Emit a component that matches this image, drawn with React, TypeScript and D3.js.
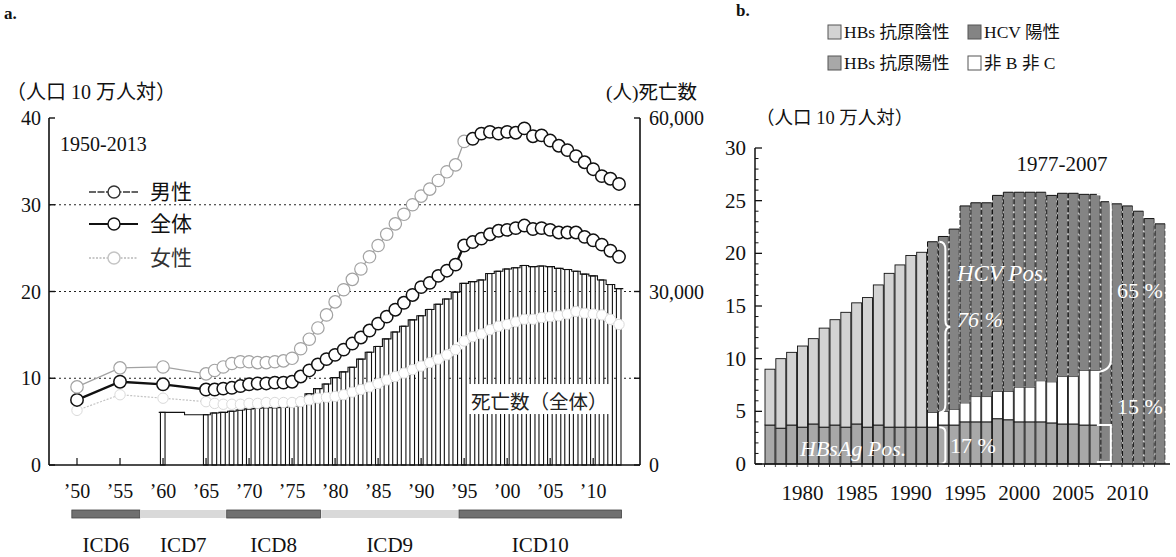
import React from "react";
import * as d3 from "d3";

const FONT = "'Liberation Serif','Times New Roman','Noto Sans CJK JP',serif";

// ---------- panel a ----------
const yearsA = [1950, 1955, 1960, 1965, 1966, 1967, 1968, 1969, 1970, 1971, 1972, 1973, 1974, 1975, 1976, 1977, 1978, 1979, 1980, 1981, 1982, 1983, 1984, 1985, 1986, 1987, 1988, 1989, 1990, 1991, 1992, 1993, 1994, 1995, 1996, 1997, 1998, 1999, 2000, 2001, 2002, 2003, 2004, 2005, 2006, 2007, 2008, 2009, 2010, 2011, 2012, 2013];
const maleRate = [9.0, 11.2, 11.3, 10.5, 10.9, 11.3, 11.7, 11.9, 11.9, 11.8, 11.8, 11.9, 12.0, 12.3, 13.4, 14.5, 15.8, 17.3, 18.8, 20.2, 21.4, 22.6, 24.0, 25.3, 26.6, 27.8, 28.9, 30.0, 31.0, 31.8, 32.8, 33.8, 34.6, 37.3, 37.6, 38.2, 38.4, 38.2, 38.4, 38.3, 38.8, 37.9, 38.0, 37.4, 36.8, 36.3, 35.6, 34.9, 34.1, 33.3, 33.0, 32.4];
const totalRate = [7.5, 9.6, 9.3, 8.7, 8.7, 8.8, 8.9, 9.1, 9.3, 9.4, 9.4, 9.5, 9.5, 9.6, 10.2, 10.9, 11.6, 12.2, 12.7, 13.3, 14.0, 14.7, 15.5, 16.3, 17.1, 17.9, 18.7, 19.6, 20.5, 21.0, 21.8, 22.4, 23.1, 25.3, 25.7, 26.1, 26.6, 27.0, 27.1, 27.3, 27.6, 27.2, 27.3, 27.1, 26.8, 26.8, 26.8, 26.3, 25.9, 25.4, 24.7, 24.0];
const femaleRate = [6.3, 8.1, 7.7, 7.3, 7.1, 7.0, 7.0, 7.0, 7.1, 7.1, 7.2, 7.2, 7.2, 7.2, 7.3, 7.5, 7.7, 7.8, 7.9, 8.1, 8.4, 8.7, 9.0, 9.4, 9.8, 10.2, 10.6, 11.0, 11.4, 11.8, 12.2, 12.7, 13.3, 14.3, 14.8, 15.1, 15.6, 16.0, 16.2, 16.5, 16.8, 16.8, 17.0, 17.1, 17.2, 17.4, 17.7, 17.5, 17.4, 17.3, 16.8, 16.2];
const deathYears = [1960, 1965, 1966, 1967, 1968, 1969, 1970, 1971, 1972, 1973, 1974, 1975, 1976, 1977, 1978, 1979, 1980, 1981, 1982, 1983, 1984, 1985, 1986, 1987, 1988, 1989, 1990, 1991, 1992, 1993, 1994, 1995, 1996, 1997, 1998, 1999, 2000, 2001, 2002, 2003, 2004, 2005, 2006, 2007, 2008, 2009, 2010, 2011, 2012, 2013];
const deaths = [9100, 8700, 9000, 9100, 9300, 9500, 9700, 9800, 9900, 9900, 10000, 10200, 11200, 12300, 13200, 14000, 15100, 16100, 16900, 18300, 19500, 20500, 21800, 23000, 24000, 25100, 25800, 26900, 27800, 28700, 29900, 31400, 31700, 32000, 33100, 33500, 33900, 34100, 34500, 34300, 34400, 34300, 34000, 33800, 33500, 33000, 32700, 32000, 31200, 30500];
const xTicksA = [1950, 1955, 1960, 1965, 1970, 1975, 1980, 1985, 1990, 1995, 2000, 2005, 2010];
const xTickLabelsA = ["’50", "’55", "’60", "’65", "’70", "’75", "’80", "’85", "’90", "’95", "’00", "’05", "’10"];
const leftTicks = [0, 10, 20, 30, 40];
const gridTicks = [10, 20, 30];
const rightTicks = [0, 15000, 30000, 45000, 60000];
const rightLabelTicks = [0, 30000, 60000];
const rightTickLabels = ["0", "30,000", "60,000"];
const icdNames = ["ICD6", "ICD7", "ICD8", "ICD9", "ICD10"];
const icdStart = [1950, 1958, 1968, 1979, 1995];
const icdEnd = [1958, 1968, 1979, 1995, 2014];
const legendA = ["男性", "全体", "女性"];

// ---------- panel b ----------
const yearsB = [1977, 1978, 1979, 1980, 1981, 1982, 1983, 1984, 1985, 1986, 1987, 1988, 1989, 1990, 1991, 1992, 1993, 1994, 1995, 1996, 1997, 1998, 1999, 2000, 2001, 2002, 2003, 2004, 2005, 2006, 2007, 2008, 2009, 2010, 2011, 2012, 2013];
const totalB = [9.0, 10.0, 10.6, 11.2, 11.9, 12.9, 13.7, 14.4, 15.3, 15.8, 17.0, 18.1, 18.9, 19.8, 20.1, 21.1, 21.6, 22.3, 24.5, 24.8, 24.8, 25.5, 25.8, 25.8, 25.8, 25.8, 25.5, 25.7, 25.7, 25.6, 25.6, 24.9, 24.7, 24.5, 24.0, 23.3, 22.8];
// HBs antigen positive, 1977-2007
const hbsPos = [3.7, 3.4, 3.7, 3.5, 3.8, 3.5, 3.7, 3.5, 3.8, 3.5, 3.7, 3.5, 3.5, 3.5, 3.5, 3.5, 3.7, 3.7, 4.0, 4.0, 4.0, 4.3, 4.2, 4.0, 4.0, 4.0, 3.9, 3.8, 3.8, 3.7, 3.7];
// non-B non-C, 1992-2007
const nbncYears = [1992, 1993, 1994, 1995, 1996, 1997, 1998, 1999, 2000, 2001, 2002, 2003, 2004, 2005, 2006, 2007];
const nbnc = [1.4, 1.3, 1.5, 1.8, 2.4, 2.4, 2.6, 2.7, 3.3, 3.3, 3.9, 3.9, 4.5, 4.5, 5.2, 5.2];
const xTicksB = [1980, 1985, 1990, 1995, 2000, 2005, 2010];
const yTicksB = [0, 5, 10, 15, 20, 25, 30];
const yMinorB = [1, 2, 3, 4, 6, 7, 8, 9, 11, 12, 13, 14, 16, 17, 18, 19, 21, 22, 23, 24, 26, 27, 28, 29];

const C_HBSNEG = "#d3d3d3";
const C_HBSPOS = "#a8a8a8";
const C_HCV = "#848484";
const C_NBNC = "#ffffff";

export default function App() {
  // ---- panel a scales ----
  const xL = d3.scaleLinear().domain([1950, 2013]).range([77, 619]);
  const yL = d3.scaleLinear().domain([0, 40]).range([465, 118]);
  const yD = d3.scaleLinear().domain([0, 60000]).range([465, 118]);
  const axL = 49, axR = 640, base = 465;

  const line = d3.line<[number, number]>().x((d) => xL(d[0])).y((d) => yL(d[1]));
  const male = yearsA.map((y, i) => [y, maleRate[i]] as [number, number]);
  const tot = yearsA.map((y, i) => [y, totalRate[i]] as [number, number]);
  const fem = yearsA.map((y, i) => [y, femaleRate[i]] as [number, number]);
  const maleLate = male.filter((d) => d[0] >= 1996);

  const stepPts = deathYears.map((y, i) => [y, deaths[i]] as [number, number]);
  const stepPath = d3
    .line<[number, number]>()
    .x((d) => xL(d[0]))
    .y((d) => yD(d[1]))
    .curve(d3.curveStep)([
    [deathYears[0] - 0.5, deaths[0]],
    ...stepPts,
    [deathYears[deathYears.length - 1] + 0.5, deaths[deaths.length - 1]],
  ]);

  // ---- panel b scales ----
  const xB = d3.scaleBand<number>().domain(yearsB).range([765, 1165]).paddingInner(0.08);
  const yB = d3.scaleLinear().domain([0, 30]).range([464, 148]);
  const axB = 755, baseB = 464;
  const bw = xB.bandwidth();

  type Seg = { y0: number; y1: number; fill: string; dashed: boolean };
  const barsB = yearsB.map((yr, i) => {
    const total = totalB[i];
    const segs: Seg[] = [];
    if (yr <= 1991) {
      segs.push({ y0: 0, y1: hbsPos[i], fill: C_HBSPOS, dashed: false });
      segs.push({ y0: hbsPos[i], y1: total, fill: C_HBSNEG, dashed: false });
    } else if (yr <= 2007) {
      const k = nbncYears.indexOf(yr);
      const h = hbsPos[i];
      const n = nbnc[k];
      segs.push({ y0: 0, y1: h, fill: C_HBSPOS, dashed: false });
      segs.push({ y0: h, y1: h + n, fill: C_NBNC, dashed: false });
      segs.push({ y0: h + n, y1: total, fill: C_HCV, dashed: true });
    } else {
      segs.push({ y0: 0, y1: total, fill: C_HCV, dashed: true });
    }
    return { yr, total, segs };
  });

  // bracket geometry from data
  const i92 = yearsB.indexOf(1992);
  const k92 = nbncYears.indexOf(1992);
  const bx1 = (xB(1992) as number) + xB.step() + 1;
  const b76top = yB(totalB[i92]);
  const b76bot = yB(hbsPos[i92] + nbnc[k92]);
  const b76mid = (b76top + b76bot) / 2;
  const brace76 = `M${bx1},${b76top} Q${bx1 + 6},${b76top} ${bx1 + 6},${b76top + 8} V${b76mid - 7} Q${bx1 + 6},${b76mid} ${bx1 + 11},${b76mid} Q${bx1 + 6},${b76mid} ${bx1 + 6},${b76mid + 7} V${b76bot - 8} Q${bx1 + 6},${b76bot} ${bx1},${b76bot}`;
  const b17top = yB(hbsPos[i92]);
  const brace17 = `M${bx1},${b17top} Q${bx1 + 6},${b17top} ${bx1 + 6},${b17top + 5} V${baseB - 4} Q${bx1 + 6},${baseB} ${bx1},${baseB}`;
  const i07 = yearsB.indexOf(2007);
  const k07 = nbncYears.indexOf(2007);
  const bx2 = (xB(2007) as number) + xB.step();
  const b65top = yB(totalB[i07]);
  const b65bot = yB(hbsPos[i07] + nbnc[k07]);
  const brace65 = `M${bx2 - 4},${b65top} Q${bx2 + 10},${b65top} ${bx2 + 10},${b65top + 12} V${b65bot - 10} Q${bx2 + 10},${b65bot} ${bx2 - 4},${b65bot + 2}`;
  const b15top = yB(hbsPos[i07]);
  const brace15 = `M${bx2 - 4},${b15top} H${bx2 + 10} V${baseB - 2} H${bx2 - 4}`;

  const legendB = [
    { label: "HBs 抗原陰性", fill: C_HBSNEG, x: 828, y: 32 },
    { label: "HCV 陽性", fill: C_HCV, x: 968, y: 32 },
    { label: "HBs 抗原陽性", fill: C_HBSPOS, x: 828, y: 63 },
    { label: "非 B 非 C", fill: C_NBNC, x: 968, y: 63 },
  ];

  const legendStyles = [
    { stroke: "#333", width: 1.6, dash: "7 1.5", circ: "#333" },
    { stroke: "#111", width: 2.2, dash: "", circ: "#111" },
    { stroke: "#b8b8b8", width: 1.4, dash: "2 1.5", circ: "#c4c4c4" },
  ];
  const legendY = [192, 224, 258];

  return (
    <svg
      width={1176}
      height={557}
      viewBox="0 0 1176 557"
      style={{ position: "absolute", left: 0, top: 0, background: "#fff" }}
      fontFamily={FONT}
    >
      <rect x={0} y={0} width={1176} height={557} fill="#fff" />

      {/* ================= PANEL A ================= */}
      <text x={4} y={19} fontSize={17} fontWeight="bold" fill="#111">a.</text>
      <text x={6} y={99} fontSize={20} fill="#111">（人口 10 万人対）</text>
      <text x={606} y={99} fontSize={19.5} fill="#111">(人)死亡数</text>

      {/* grid */}
      {gridTicks.map((t) => (
        <line key={"g" + t} x1={axL} x2={axR} y1={yL(t)} y2={yL(t)} stroke="#222" strokeWidth={1} strokeDasharray="2 3" />
      ))}

      {/* death bars */}
      {deathYears.map((yr, i) => (
        <rect
          key={"d" + yr}
          x={xL(yr) - 2.6}
          y={yD(deaths[i])}
          width={4.6}
          height={base - yD(deaths[i])}
          fill="#fff"
          stroke="#111"
          strokeWidth={1.1}
        />
      ))}
      <path d={stepPath || ""} fill="none" stroke="#111" strokeWidth={1.1} />

      {/* female line with halo */}
      <path d={line(fem) || ""} fill="none" stroke="#fff" strokeWidth={8} strokeLinejoin="round" />
      <path d={line(fem) || ""} fill="none" stroke="#c4c4c4" strokeWidth={1.2} strokeDasharray="2 1.5" />
      {fem.map((d) => (
        <circle key={"f" + d[0]} cx={xL(d[0])} cy={yL(d[1])} r={5.2} fill="#fff" stroke="#dadada" strokeWidth={1} />
      ))}

      {/* label */}
      <rect x={xL(1995.4)} y={yD(14000)} width={142} height={30} fill="#fff" />
      <text x={xL(1995.8)} y={yD(9700)} fontSize={19.5} fill="#222">死亡数（全体）</text>

      {/* total line */}
      <path d={line(tot) || ""} fill="none" stroke="#111" strokeWidth={2.4} />
      {tot.map((d) => (
        <circle key={"t" + d[0]} cx={xL(d[0])} cy={yL(d[1])} r={6.2} fill="#fff" stroke="#111" strokeWidth={1.5} />
      ))}

      {/* male line */}
      <path d={line(male) || ""} fill="none" stroke="#a2a2a2" strokeWidth={1.3} />
      <path d={line(maleLate) || ""} fill="none" stroke="#111" strokeWidth={1.4} />
      {male.map((d) => (
        <circle
          key={"m" + d[0]}
          cx={xL(d[0])}
          cy={yL(d[1])}
          r={6.2}
          fill="#fff"
          stroke={d[0] >= 1996 ? "#111" : "#a2a2a2"}
          strokeWidth={d[0] >= 1996 ? 1.5 : 1.2}
        />
      ))}

      {/* axes */}
      <line x1={axL} x2={axL} y1={yL(40)} y2={base} stroke="#111" strokeWidth={1.6} />
      <line x1={axR} x2={axR} y1={yD(60000)} y2={base} stroke="#111" strokeWidth={1.6} />
      <line x1={axL} x2={axR} y1={base} y2={base} stroke="#111" strokeWidth={1.6} />
      {leftTicks.map((t) => (
        <g key={"lt" + t}>
          <line x1={axL} x2={axL + 6} y1={yL(t)} y2={yL(t)} stroke="#111" strokeWidth={1.4} />
          <text x={axL - 8} y={yL(t)} fontSize={20} textAnchor="end" dominantBaseline="central" fill="#111">{t}</text>
        </g>
      ))}
      {rightTicks.map((t) => (
        <line key={"rt" + t} x1={axR - 6} x2={axR} y1={yD(t)} y2={yD(t)} stroke="#111" strokeWidth={1.4} />
      ))}
      {rightLabelTicks.map((t, i) => (
        <text key={"rl" + t} x={axR + 9} y={yD(t)} fontSize={20} dominantBaseline="central" fill="#111">{rightTickLabels[i]}</text>
      ))}
      {xTicksA.map((t, i) => (
        <g key={"xt" + t}>
          <line x1={xL(t)} x2={xL(t)} y1={base} y2={base - 7} stroke="#111" strokeWidth={1.2} />
          <text x={xL(t)} y={491} fontSize={20} textAnchor="middle" dominantBaseline="central" fill="#111">{xTickLabelsA[i]}</text>
        </g>
      ))}

      {/* in-plot legend */}
      <text x={60} y={151} fontSize={20} fill="#111">1950-2013</text>
      {legendA.map((lab, i) => {
        const s = legendStyles[i];
        return (
          <g key={"la" + lab}>
            <line x1={89} x2={138} y1={legendY[i]} y2={legendY[i]} stroke={s.stroke} strokeWidth={s.width} strokeDasharray={s.dash} />
            <circle cx={114} cy={legendY[i]} r={6} fill="#fff" stroke={s.circ} strokeWidth={1.4} />
            <text x={150} y={legendY[i]} fontSize={21} dominantBaseline="central" fill={i === 2 ? "#333" : "#111"}>{lab}</text>
          </g>
        );
      })}

      {/* ICD bars */}
      {icdNames.map((n, i) => {
        const x0 = xL(icdStart[i] - 0.6);
        const x1 = xL(icdEnd[i] - 0.7);
        return (
          <g key={n}>
            <rect x={x0} y={510} width={x1 - x0} height={8} fill={i % 2 === 0 ? "#707070" : "#d9d9d9"} stroke={i % 2 === 0 ? "#444" : "none"} strokeWidth={0.8} />
            <text x={(x0 + x1) / 2} y={545} fontSize={21} textAnchor="middle" dominantBaseline="central" fill="#111">{n}</text>
          </g>
        );
      })}

      {/* ================= PANEL B ================= */}
      <text x={736} y={16} fontSize={17} fontWeight="bold" fill="#111">b.</text>
      {legendB.map((l) => (
        <g key={l.label}>
          <rect x={l.x} y={l.y - 7} width={13} height={14} fill={l.fill} stroke="#555" strokeWidth={1} />
          <text x={l.x + 16} y={l.y} fontSize={17.5} dominantBaseline="central" fill="#111">{l.label}</text>
        </g>
      ))}
      <text x={756} y={124} fontSize={18.5} fill="#111">（人口 10 万人対）</text>

      {/* stacked bars */}
      {barsB.map((b) => {
        const x = xB(b.yr) as number;
        return (
          <g key={"b" + b.yr}>
            {b.segs.map((s, j) => (
              <rect
                key={j}
                x={x}
                y={yB(s.y1)}
                width={bw}
                height={yB(s.y0) - yB(s.y1)}
                fill={s.fill}
                stroke={s.dashed ? "none" : "#111"}
                strokeWidth={0.9}
              />
            ))}
            {b.segs
              .filter((s) => s.dashed)
              .map((s, j) => (
                <g key={"dd" + j}>
                  <line x1={x} x2={x} y1={yB(s.y1)} y2={yB(s.y0)} stroke="#111" strokeWidth={1} strokeDasharray="5 2" />
                  <line x1={x + bw} x2={x + bw} y1={yB(s.y1)} y2={yB(s.y0)} stroke="#111" strokeWidth={0.6} strokeDasharray="5 2" />
                  <line x1={x} x2={x + bw} y1={yB(s.y1)} y2={yB(s.y1)} stroke="#111" strokeWidth={1} />
                </g>
              ))}
          </g>
        );
      })}

      {/* braces */}
      <path d={brace76} fill="none" stroke="#fff" strokeWidth={2} />
      <path d={brace17} fill="none" stroke="#fff" strokeWidth={2} />
      <path d={brace65} fill="none" stroke="#fff" strokeWidth={2} />
      <path d={brace15} fill="none" stroke="#fff" strokeWidth={2} />

      {/* annotations */}
      <text x={957} y={yB(18.1)} fontSize={23} fontStyle="italic" fill="#fff" dominantBaseline="central">HCV Pos.</text>
      <text x={957} y={yB(13.7)} fontSize={22} fontStyle="italic" fill="#fff" dominantBaseline="central">76 %</text>
      <text x={800} y={yB(1.5)} fontSize={22} fontStyle="italic" fill="#fff" dominantBaseline="central">HBsAg Pos.</text>
      <text x={950} y={yB(1.8)} fontSize={22} fill="#fff" dominantBaseline="central">17 %</text>
      <text x={1117} y={yB(16.5)} fontSize={22} fill="#fff" dominantBaseline="central">65 %</text>
      <text x={1117} y={yB(5.5)} fontSize={22} fill="#fff" dominantBaseline="central">15 %</text>
      <text x={1062} y={yB(28.5)} fontSize={21} textAnchor="middle" dominantBaseline="central" fill="#111">1977-2007</text>

      {/* axes b */}
      <line x1={axB} x2={axB} y1={yB(30)} y2={baseB} stroke="#111" strokeWidth={1.5} />
      <line x1={axB} x2={1170} y1={baseB} y2={baseB} stroke="#111" strokeWidth={1.5} />
      {yTicksB.map((t) => (
        <g key={"yb" + t}>
          <line x1={axB} x2={axB + 7} y1={yB(t)} y2={yB(t)} stroke="#111" strokeWidth={1.3} />
          <text x={axB - 9} y={yB(t)} fontSize={21} textAnchor="end" dominantBaseline="central" fill="#111">{t}</text>
        </g>
      ))}
      {yMinorB.map((t) => (
        <line key={"ym" + t} x1={axB} x2={axB + 3.5} y1={yB(t)} y2={yB(t)} stroke="#111" strokeWidth={1} />
      ))}
      {yearsB.map((yr) => (
        <line key={"xbt" + yr} x1={(xB(yr) as number) - 0.5} x2={(xB(yr) as number) - 0.5} y1={baseB} y2={baseB + 3} stroke="#111" strokeWidth={0.8} />
      ))}
      {xTicksB.map((t) => (
        <text key={"xb" + t} x={(xB(t) as number) + bw / 2} y={493} fontSize={21} textAnchor="middle" dominantBaseline="central" fill="#111">{t}</text>
      ))}
    </svg>
  );
}
